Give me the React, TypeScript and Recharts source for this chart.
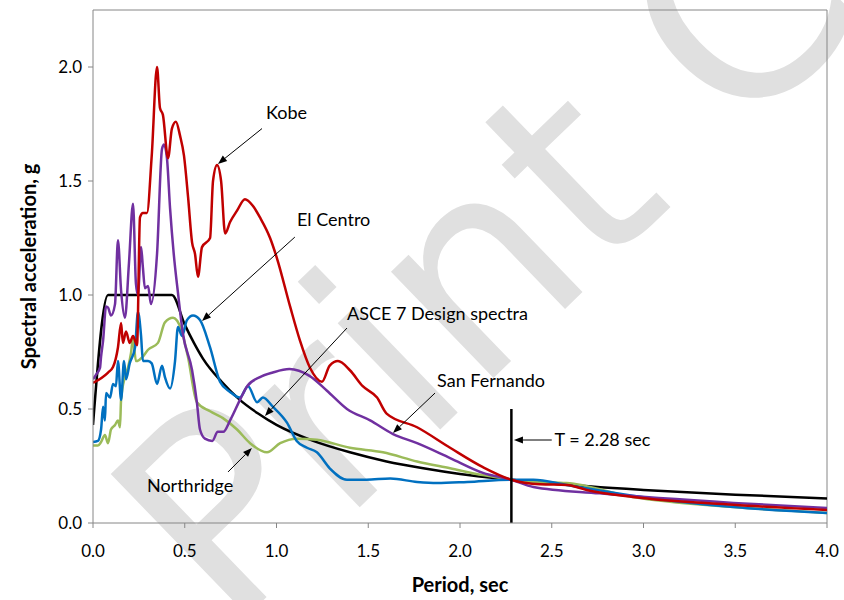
import React from 'react';
import { LineChart, Line, XAxis, YAxis, ReferenceLine, ReferenceDot } from 'recharts';

// ---------- data (period T in sec, spectral acceleration in g) ----------
const kobeT = [0, 0.082, 0.109, 0.136, 0.153, 0.163, 0.18, 0.2, 0.218, 0.24, 0.256, 0.272, 0.294, 0.32, 0.349, 0.365, 0.381, 0.409, 0.43, 0.452, 0.474, 0.496, 0.518, 0.54, 0.556, 0.572, 0.594, 0.638, 0.654, 0.676, 0.698, 0.72, 0.747, 0.785, 0.828, 0.872, 0.91, 0.965, 1.003, 1.074, 1.128, 1.183, 1.248, 1.29, 1.335, 1.4, 1.47, 1.548, 1.6, 1.766, 1.946, 2.125, 2.28, 2.436, 2.583, 2.69, 2.943, 3.49, 4.0];
const kobeSa = [0.614, 0.66, 0.684, 0.77, 0.877, 0.79, 0.84, 0.79, 0.82, 0.78, 1.34, 1.36, 1.36, 1.61, 2.0, 1.82, 1.79, 1.6, 1.73, 1.76, 1.7, 1.61, 1.43, 1.23, 1.18, 1.08, 1.21, 1.25, 1.5, 1.57, 1.5, 1.27, 1.32, 1.37, 1.42, 1.39, 1.34, 1.25, 1.16, 0.95, 0.8, 0.68, 0.62, 0.69, 0.71, 0.67, 0.6, 0.55, 0.48, 0.42, 0.33, 0.245, 0.19, 0.17, 0.167, 0.145, 0.114, 0.08, 0.057];

const sanFernandoT = [0, 0.016, 0.038, 0.044, 0.055, 0.071, 0.082, 0.098, 0.12, 0.136, 0.153, 0.174, 0.196, 0.218, 0.234, 0.245, 0.262, 0.272, 0.283, 0.3, 0.316, 0.349, 0.376, 0.387, 0.403, 0.42, 0.44, 0.463, 0.49, 0.54, 0.566, 0.583, 0.61, 0.65, 0.68, 0.71, 0.747, 0.801, 0.84, 0.91, 0.98, 1.07, 1.18, 1.275, 1.384, 1.51, 1.635, 1.766, 1.946, 2.125, 2.28, 2.4, 2.76, 3.49, 4.0];
const sanFernandoSa = [0.63, 0.65, 0.68, 0.73, 0.8, 0.95, 0.945, 0.91, 0.96, 1.24, 1.02, 0.9, 1.14, 1.4, 1.05, 1.0, 1.21, 1.12, 1.03, 1.04, 0.96, 1.18, 1.64, 1.66, 1.6, 1.38, 1.18, 1.01, 0.83, 0.67, 0.53, 0.41, 0.37, 0.36, 0.4, 0.4, 0.45, 0.54, 0.6, 0.64, 0.66, 0.675, 0.645, 0.58, 0.5, 0.45, 0.39, 0.35, 0.285, 0.22, 0.19, 0.158, 0.13, 0.088, 0.066];

const elCentroT = [0, 0.027, 0.044, 0.055, 0.065, 0.071, 0.093, 0.109, 0.125, 0.136, 0.153, 0.169, 0.18, 0.2, 0.229, 0.245, 0.262, 0.272, 0.3, 0.32, 0.349, 0.376, 0.392, 0.42, 0.447, 0.463, 0.485, 0.512, 0.545, 0.583, 0.638, 0.692, 0.747, 0.8, 0.845, 0.894, 0.926, 0.98, 1.057, 1.11, 1.166, 1.22, 1.29, 1.384, 1.49, 1.62, 1.766, 1.875, 2.04, 2.28, 2.4, 2.58, 2.94, 3.49, 4.0];
const elCentroSa = [0.355, 0.36, 0.41, 0.51, 0.45, 0.57, 0.55, 0.61, 0.6, 0.71, 0.54, 0.71, 0.63, 0.7, 0.77, 0.925, 0.82, 0.71, 0.71, 0.7, 0.61, 0.69, 0.64, 0.59, 0.71, 0.86, 0.82, 0.89, 0.91, 0.89, 0.77, 0.62, 0.575, 0.55, 0.6, 0.53, 0.55, 0.51, 0.44, 0.36, 0.33, 0.31, 0.24, 0.19, 0.19, 0.195, 0.18, 0.175, 0.18, 0.19, 0.19, 0.167, 0.12, 0.07, 0.044];

const northridgeT = [0, 0.027, 0.044, 0.065, 0.082, 0.098, 0.12, 0.136, 0.147, 0.153, 0.174, 0.19, 0.207, 0.218, 0.234, 0.272, 0.3, 0.354, 0.392, 0.436, 0.48, 0.517, 0.566, 0.638, 0.708, 0.785, 0.856, 0.948, 1.02, 1.11, 1.22, 1.4, 1.58, 1.766, 1.946, 2.125, 2.28, 2.4, 2.58, 2.94, 3.49, 4.0];
const northridgeSa = [0.34, 0.34, 0.355, 0.386, 0.35, 0.41, 0.43, 0.45, 0.42, 0.54, 0.64, 0.68, 0.745, 0.81, 0.71, 0.73, 0.76, 0.79, 0.88, 0.9, 0.85, 0.73, 0.53, 0.49, 0.46, 0.41, 0.35, 0.31, 0.35, 0.37, 0.365, 0.33, 0.31, 0.27, 0.24, 0.21, 0.19, 0.18, 0.175, 0.114, 0.07, 0.044];

const designT = [0, 0.082, 0.43, 0.5, 0.55, 0.6, 0.7, 0.8, 0.9, 1.0, 1.2, 1.4, 1.6, 1.8, 2.0, 2.28, 2.5, 3.0, 3.5, 4.0];
const designSa = [0.43, 1.0, 1.0, 0.87, 0.79, 0.72, 0.62, 0.54, 0.48, 0.43, 0.36, 0.31, 0.27, 0.24, 0.215, 0.19, 0.173, 0.145, 0.124, 0.108];

const periodMarkT = [2.28, 2.28];
const periodMarkSa = [0, 0.5];

const xTicks = [0, 0.5, 1, 1.5, 2, 2.5, 3, 3.5, 4];
const yTicks = [0, 0.5, 1, 1.5, 2];

// annotation: text anchor (left-middle) and arrow tail -> head, in data units
const noteText = ['Kobe', 'El Centro', 'ASCE 7 Design spectra', 'San Fernando', 'Northridge', 'T = 2.28 sec'];
const noteTextT = [0.943, 1.112, 1.384, 1.875, 0.294, 2.515];
const noteTextSa = [1.8, 1.33, 0.917, 0.623, 0.162, 0.364];
const arrowFromT = [0.921, 1.1, 1.384, 1.864, 0.736, 2.5];
const arrowFromSa = [1.73, 1.254, 0.855, 0.57, 0.224, 0.364];
const arrowToT = [0.681, 0.594, 0.937, 1.635, 0.866, 2.294];
const arrowToSa = [1.575, 0.886, 0.469, 0.395, 0.329, 0.364];

// ---------- helpers ----------
const zip = (t: number[], s: number[]) => t.map((x, i) => ({ x, y: s[i] }));
const FONT = 'Lato, "Open Sans", "DejaVu Sans", sans-serif';
const AXIS = '#868686';
const W = 844;
const H = 600;
const MARGIN = { top: 10, right: 17, bottom: 0, left: 0 };
const Y_W = 93;
const X_H = 77;

const Arrow = (props: any) => {
  const x1 = Number(props.x1), y1 = Number(props.y1), x2 = Number(props.x2), y2 = Number(props.y2);
  const dx = x2 - x1, dy = y2 - y1;
  const len = Math.hypot(dx, dy) || 1;
  const ux = dx / len, uy = dy / len;
  const L = 9, HW = 3.5;
  const bx = x2 - ux * L, by = y2 - uy * L;
  return (
    <g>
      <line x1={x1} y1={y1} x2={bx} y2={by} stroke="#000" strokeWidth={1} />
      <polygon points={`${x2},${y2} ${bx - uy * HW},${by + ux * HW} ${bx + uy * HW},${by - ux * HW}`} fill="#000" />
    </g>
  );
};

const makeNote = (text: string) => (props: any) => (
  <text x={props.cx} y={props.cy} dy="0.35em" fontFamily={FONT} fontSize={18} fill="#000">
    {text}
  </text>
);

const XTitle = () => (
  <text x={MARGIN.left + Y_W + (W - MARGIN.left - Y_W - MARGIN.right) / 2} y={H - 8} textAnchor="middle" fontFamily={FONT} fontWeight="bold" fontSize={20} fill="#000">
    Period, sec
  </text>
);

const YTitle = () => {
  const cx = 28;
  const cy = MARGIN.top + (H - MARGIN.top - X_H) / 2;
  return (
    <text x={cx} y={cy} transform={`rotate(-90 ${cx} ${cy})`} textAnchor="middle" dominantBaseline="central" fontFamily={FONT} fontWeight="bold" fontSize={20} fill="#000">
      Spectral acceleration, g
    </text>
  );
};

export default function App() {
  const series = [
    { name: 'ASCE 7 Design spectra', data: zip(designT, designSa), color: '#000000', w: 2.5 },
    { name: 'Northridge', data: zip(northridgeT, northridgeSa), color: '#9BBB59', w: 2.5 },
    { name: 'El Centro', data: zip(elCentroT, elCentroSa), color: '#0070C0', w: 2.5 },
    { name: 'San Fernando', data: zip(sanFernandoT, sanFernandoSa), color: '#7030A0', w: 2.5 },
    { name: 'Kobe', data: zip(kobeT, kobeSa), color: '#C00000', w: 2.5 },
  ];
  return (
    <div style={{ position: 'absolute', left: 0, top: 0, width: W, height: H, background: '#fff', overflow: 'hidden' }}>
      <div
        style={{
          position: 'absolute',
          left: 70,
          top: 690,
          transformOrigin: '0 0',
          transform: 'rotate(-44deg)',
          fontFamily: '"DejaVu Sans", sans-serif',
          fontSize: 270,
          lineHeight: 1,
          color: '#e0e0e0',
          whiteSpace: 'nowrap',
          marginTop: -220,
        }}
      >
        Print Copy
      </div>
      <div style={{ position: 'absolute', left: 0, top: 0 }}>
        <LineChart width={W} height={H} margin={MARGIN}>
          <XAxis
            type="number"
            dataKey="x"
            domain={[0, 4]}
            ticks={xTicks}
            allowDataOverflow
            tickFormatter={(v: number) => v.toFixed(1)}
            stroke={AXIS}
            tickLine={{ stroke: AXIS }}
            tick={{ fill: '#000', fontSize: 17, fontFamily: FONT }}
            tickSize={5}
            tickMargin={17}
            height={X_H}
            label={{ content: XTitle }}
          />
          <YAxis
            type="number"
            dataKey="y"
            domain={[0, 2.25]}
            ticks={yTicks}
            allowDataOverflow
            tickFormatter={(v: number) => v.toFixed(1)}
            stroke={AXIS}
            tickLine={{ stroke: AXIS }}
            tick={{ fill: '#000', fontSize: 17, fontFamily: FONT }}
            tickSize={5}
            tickMargin={6}
            width={Y_W}
            label={{ content: YTitle }}
          />
          <ReferenceLine y={2.25} stroke={AXIS} strokeWidth={1} />
          <ReferenceLine x={4} stroke={AXIS} strokeWidth={1} />
          {series.map((s) => (
            <Line
              key={s.name}
              data={s.data}
              dataKey="y"
              type="monotone"
              stroke={s.color}
              strokeWidth={s.w}
              dot={false}
              activeDot={false}
              isAnimationActive={false}
            />
          ))}
          <Line
            data={zip(periodMarkT, periodMarkSa)}
            dataKey="y"
            type="linear"
            stroke="#000"
            strokeWidth={2.5}
            dot={false}
            activeDot={false}
            isAnimationActive={false}
          />
          {noteText.map((t, i) => (
            <ReferenceLine
              key={'a' + i}
              segment={[
                { x: arrowFromT[i], y: arrowFromSa[i] },
                { x: arrowToT[i], y: arrowToSa[i] },
              ]}
              shape={Arrow}
            />
          ))}
          {noteText.map((t, i) => (
            <ReferenceDot key={'n' + i} x={noteTextT[i]} y={noteTextSa[i]} r={0} shape={makeNote(t)} />
          ))}
        </LineChart>
      </div>
    </div>
  );
}
